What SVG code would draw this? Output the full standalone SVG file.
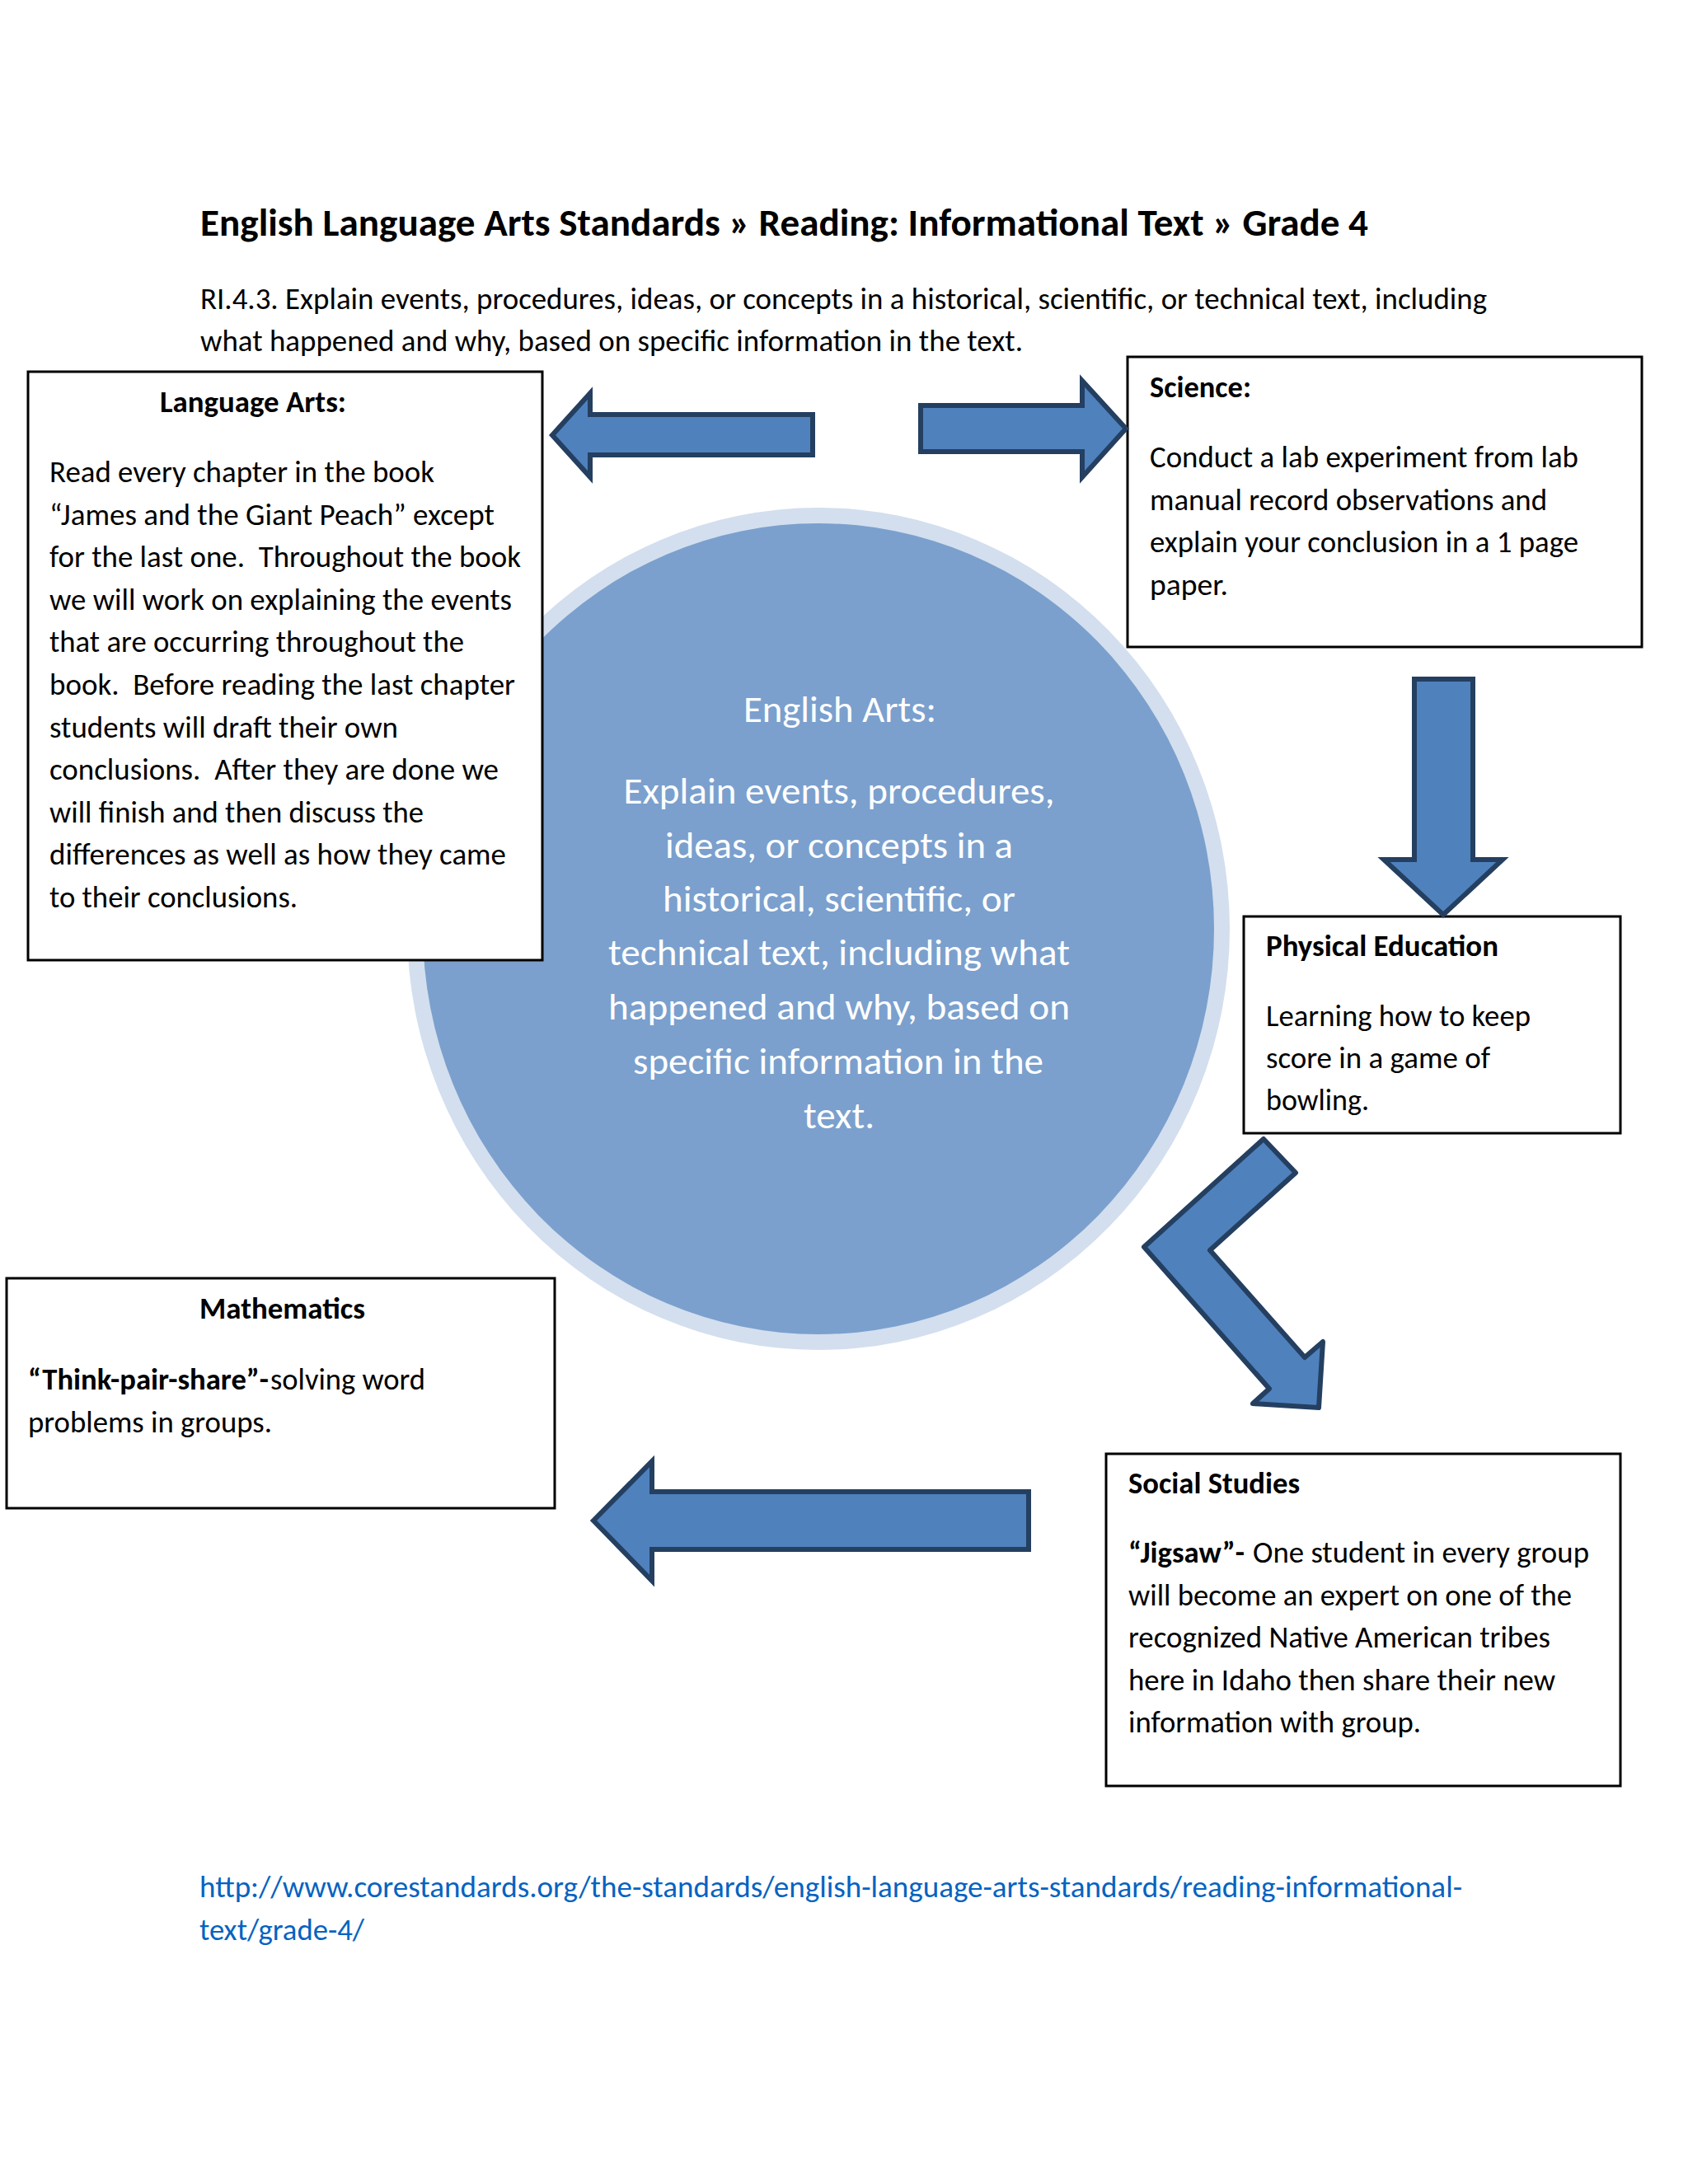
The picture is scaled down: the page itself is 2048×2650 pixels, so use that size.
<svg xmlns="http://www.w3.org/2000/svg" width="2048" height="2650" viewBox="0 0 2048 2650">
<defs>
<style>
text{font-family:Carlito,Calibri,Lato,"Liberation Sans",sans-serif;fill:#000}
.h{font-size:47px;font-weight:bold}
.s{font-size:36.7px}
.b{font-size:36.7px;font-weight:bold}
.c{font-size:46px;fill:#fff;text-anchor:middle}
.u{font-size:36.7px;fill:#0563C1}
.p{white-space:pre}
.box{fill:#fff;stroke:#000;stroke-width:3}
.arr{fill:#4F81BD;stroke:#243F60;stroke-width:6;stroke-linejoin:miter}
.arrb{fill:#4F81BD;stroke:#243F60;stroke-width:6;stroke-linejoin:round}
</style>
</defs>
<rect width="2048" height="2650" fill="#fff"/>

<g id="header">
<text class="h" x="243" y="286" textLength="1417" lengthAdjust="spacingAndGlyphs">English Language Arts Standards » Reading: Informational Text » Grade 4</text>
<text class="s" x="243" y="375" textLength="1561" lengthAdjust="spacingAndGlyphs">RI.4.3. Explain events, procedures, ideas, or concepts in a historical, scientific, or technical text, including</text>
<text class="s" x="243" y="426" textLength="998" lengthAdjust="spacingAndGlyphs">what happened and why, based on specific information in the text.</text>
</g>

<g id="center-english-arts">
<ellipse cx="993" cy="1127" rx="499" ry="511" fill="#D3DFEE"/>
<ellipse cx="993" cy="1127" rx="480" ry="492" fill="#7BA0CD"/>
<text class="c" x="1019" y="876" textLength="234" lengthAdjust="spacingAndGlyphs">English Arts:</text>
<text class="c" x="1018" y="975" textLength="523" lengthAdjust="spacingAndGlyphs">Explain events, procedures,</text>
<text class="c" x="1018" y="1041" textLength="422" lengthAdjust="spacingAndGlyphs">ideas, or concepts in a</text>
<text class="c" x="1018" y="1106" textLength="428" lengthAdjust="spacingAndGlyphs">historical, scientific, or</text>
<text class="c" x="1018" y="1171" textLength="560" lengthAdjust="spacingAndGlyphs">technical text, including what</text>
<text class="c" x="1018" y="1237" textLength="560" lengthAdjust="spacingAndGlyphs">happened and why, based on</text>
<text class="c" x="1017" y="1303" textLength="498" lengthAdjust="spacingAndGlyphs">specific information in the</text>
<text class="c" x="1018" y="1369" textLength="86" lengthAdjust="spacingAndGlyphs">text.</text>
</g>

<g id="language-arts">
<rect class="box" x="34" y="451" width="624" height="714"/>
<text class="b" x="194" y="500" textLength="226" lengthAdjust="spacingAndGlyphs">Language Arts:</text>
<text class="s" x="60" y="585" textLength="467" lengthAdjust="spacingAndGlyphs">Read every chapter in the book</text>
<text class="s" x="60" y="636.6" textLength="540" lengthAdjust="spacingAndGlyphs">“James and the Giant Peach” except</text>
<text class="s p" x="60" y="688.2" textLength="572" lengthAdjust="spacingAndGlyphs" xml:space="preserve">for the last one.  Throughout the book</text>
<text class="s" x="60" y="739.8" textLength="561" lengthAdjust="spacingAndGlyphs">we will work on explaining the events</text>
<text class="s" x="60" y="791.4" textLength="503" lengthAdjust="spacingAndGlyphs">that are occurring throughout the</text>
<text class="s p" x="60" y="843" textLength="565" lengthAdjust="spacingAndGlyphs" xml:space="preserve">book.  Before reading the last chapter</text>
<text class="s" x="60" y="894.6" textLength="423" lengthAdjust="spacingAndGlyphs">students will draft their own</text>
<text class="s p" x="60" y="946.2" textLength="545" lengthAdjust="spacingAndGlyphs" xml:space="preserve">conclusions.  After they are done we</text>
<text class="s" x="60" y="997.8" textLength="454" lengthAdjust="spacingAndGlyphs">will finish and then discuss the</text>
<text class="s" x="60" y="1049.4" textLength="554" lengthAdjust="spacingAndGlyphs">differences as well as how they came</text>
<text class="s" x="60" y="1101" textLength="301" lengthAdjust="spacingAndGlyphs">to their conclusions.</text>
</g>

<g id="science">
<rect class="box" x="1368" y="433" width="624" height="352"/>
<text class="b" x="1395" y="482" textLength="123" lengthAdjust="spacingAndGlyphs">Science:</text>
<text class="s" x="1395" y="567" textLength="520" lengthAdjust="spacingAndGlyphs">Conduct a lab experiment from lab</text>
<text class="s" x="1395" y="618.6" textLength="482" lengthAdjust="spacingAndGlyphs">manual record observations and</text>
<text class="s" x="1395" y="670.2" textLength="520" lengthAdjust="spacingAndGlyphs">explain your conclusion in a 1 page</text>
<text class="s" x="1395" y="721.8" textLength="95" lengthAdjust="spacingAndGlyphs">paper.</text>
</g>

<g id="physical-education">
<rect class="box" x="1509" y="1112" width="457" height="263"/>
<text class="b" x="1536" y="1160" textLength="282" lengthAdjust="spacingAndGlyphs">Physical Education</text>
<text class="s" x="1536" y="1245" textLength="321" lengthAdjust="spacingAndGlyphs">Learning how to keep</text>
<text class="s" x="1536" y="1296" textLength="272" lengthAdjust="spacingAndGlyphs">score in a game of</text>
<text class="s" x="1536" y="1347" textLength="125" lengthAdjust="spacingAndGlyphs">bowling.</text>
</g>

<g id="mathematics">
<rect class="box" x="8" y="1551" width="665" height="279"/>
<text class="b" x="242" y="1600" textLength="201" lengthAdjust="spacingAndGlyphs">Mathematics</text>
<text class="b" x="34" y="1686" textLength="292" lengthAdjust="spacingAndGlyphs">“Think-pair-share”-</text>
<text class="s" x="328" y="1686" textLength="188" lengthAdjust="spacingAndGlyphs">solving word</text>
<text class="s" x="34" y="1738" textLength="296" lengthAdjust="spacingAndGlyphs">problems in groups.</text>
</g>

<g id="social-studies">
<rect class="box" x="1342" y="1764" width="624" height="403"/>
<text class="b" x="1369" y="1812" textLength="208" lengthAdjust="spacingAndGlyphs">Social Studies</text>
<text class="b" x="1369" y="1896" textLength="141" lengthAdjust="spacingAndGlyphs">“Jigsaw”-</text>
<text class="s" x="1520" y="1896" textLength="408" lengthAdjust="spacingAndGlyphs">One student in every group</text>
<text class="s" x="1369" y="1947.5" textLength="538" lengthAdjust="spacingAndGlyphs">will become an expert on one of the</text>
<text class="s" x="1369" y="1999" textLength="512" lengthAdjust="spacingAndGlyphs">recognized Native American tribes</text>
<text class="s" x="1369" y="2050.5" textLength="518" lengthAdjust="spacingAndGlyphs">here in Idaho then share their new</text>
<text class="s" x="1369" y="2102" textLength="355" lengthAdjust="spacingAndGlyphs">information with group.</text>
</g>

<g id="connectors">
<polygon class="arr" points="670,528 716,477 716,503 986,503 986,552 716,552 716,579"/>
<polygon class="arr" points="1117,492 1313,492 1313,462 1366,520 1313,579 1313,548 1117,548"/>
<polygon class="arr" points="1716,824 1787,824 1787,1043 1823,1043 1751,1110 1679,1043 1716,1043"/>
<polygon class="arrb" points="1533,1382 1572,1423 1468,1517 1583,1647 1605,1628 1600,1708 1520,1703 1540,1685 1388,1513"/>
<polygon class="arr" points="720,1845 791,1773 791,1810 1248,1810 1248,1880 791,1880 791,1918"/>
</g>

<g id="source-link">
<text class="u" x="242" y="2302" textLength="1532" lengthAdjust="spacingAndGlyphs">http://www.corestandards.org/the-standards/english-language-arts-standards/reading-informational-</text>
<text class="u" x="242" y="2354" textLength="200" lengthAdjust="spacingAndGlyphs">text/grade-4/</text>
</g>
</svg>
